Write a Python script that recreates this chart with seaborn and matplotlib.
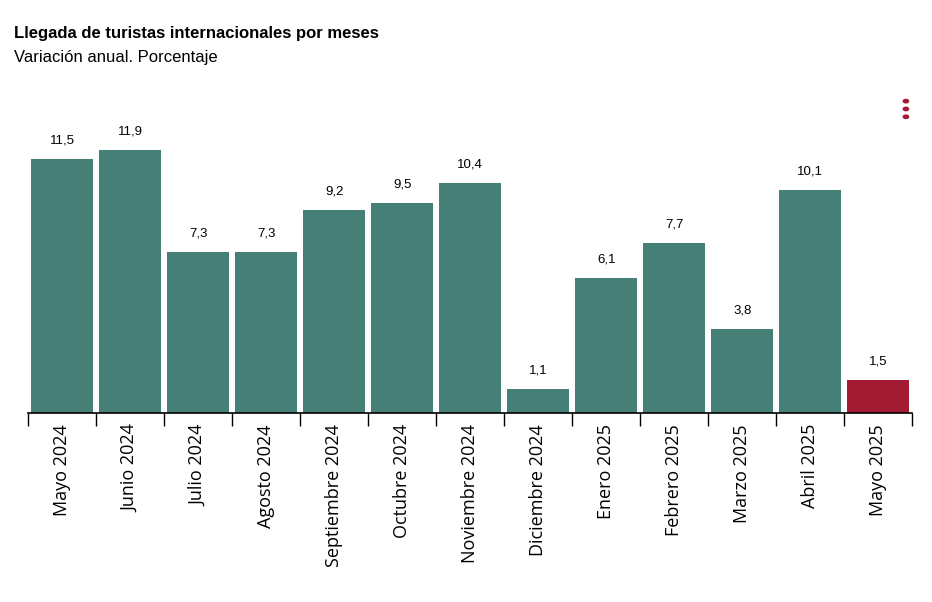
import numpy as np
import pandas as pd
import seaborn as sns
import matplotlib.pyplot as plt

months = ['Mayo 2024', 'Junio 2024', 'Julio 2024', 'Agosto 2024', 'Septiembre 2024',
          'Octubre 2024', 'Noviembre 2024', 'Diciembre 2024', 'Enero 2025',
          'Febrero 2025', 'Marzo 2025', 'Abril 2025', 'Mayo 2025']
values = [11.5, 11.9, 7.3, 7.3, 9.2, 9.5, 10.4, 1.1, 6.1, 7.7, 3.8, 10.1, 1.5]

green = '#467f76'
red = '#a31a33'
colors = [green] * (len(months) - 1) + [red]

data = pd.DataFrame({'mes': months, 'valor': values})

fig = plt.figure(figsize=(9.32, 6.02), dpi=100)
ax = fig.add_axes([0.030, 0.314, 0.949, 0.52])
sns.barplot(data=data, x='mes', y='valor', hue='mes', palette=colors,
            legend=False, width=0.91, saturation=1, ax=ax)

for i, v in enumerate(values):
    ax.text(i, v + 0.55, f'{v:.1f}'.replace('.', ','), ha='center', va='bottom',
            fontsize=9.5, fontname='Liberation Sans')

ax.set_xlim(-0.5, len(months) - 0.5)
ax.set_ylim(0, 14.16)
ax.set_xlabel('')
ax.set_ylabel('')
ax.set_yticks([])
for s in ['top', 'right', 'left']:
    ax.spines[s].set_visible(False)
ax.spines['bottom'].set_color('black')
ax.spines['bottom'].set_linewidth(1.2)
ax.set_xticks(range(len(months)))
ax.set_xticklabels(months, rotation=90, fontsize=13, fontname='Open Sans')
ax.tick_params(axis='x', which='major', length=0, pad=8)
ax.set_xticks(np.arange(-0.5, len(months), 1), minor=True)
ax.tick_params(axis='x', which='minor', length=9, width=1, color='black')

fig.text(0.015, 0.937, 'Llegada de turistas internacionales por meses',
         fontsize=12, fontweight='bold', fontname='Liberation Sans')
fig.text(0.015, 0.897, 'Variación anual. Porcentaje',
         fontsize=12, fontname='Liberation Sans')
for yy in [0.832, 0.819, 0.806]:
    fig.patches.append(plt.Circle((0.972, yy), 0.0028, transform=fig.transFigure,
                                  color=red))

plt.savefig('out.png', dpi=100)
